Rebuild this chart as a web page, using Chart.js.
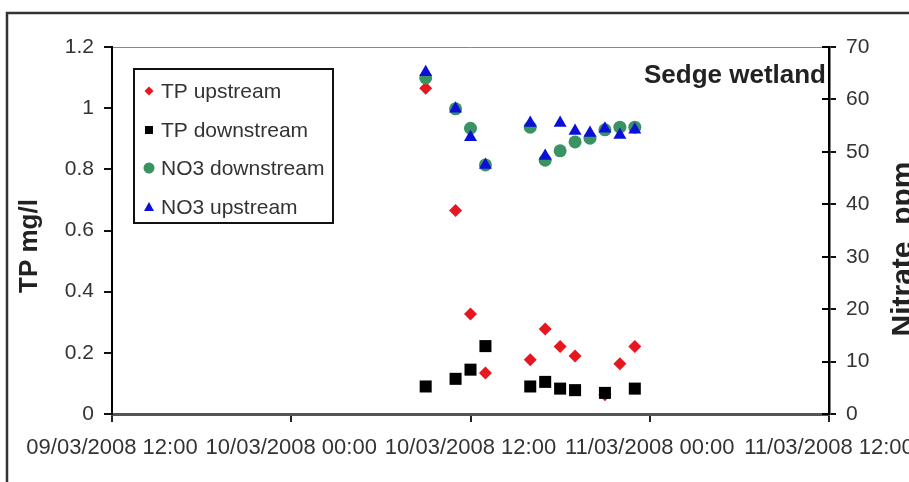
<!DOCTYPE html>
<html>
<head>
<meta charset="utf-8">
<script src="https://cdn.jsdelivr.net/npm/chart.js@4.4.1/dist/chart.umd.min.js"></script>
<style>
  body { margin: 0; background: #fff; }
  canvas { display: block; }
</style>
</head>
<body>
<canvas id="wetlandChart" width="909" height="482"></canvas>
<script>
// Sedge wetland sampling, March 2008
const startTime = '09/03/2008 12:00';
const xTickLabels = ['09/03/2008 12:00', '10/03/2008 00:00', '10/03/2008 12:00', '11/03/2008 00:00', '11/03/2008 12:00'];

// TP mg/l (left axis)
const tpUpTimes = ['10/03/2008 09:00', '10/03/2008 11:00', '10/03/2008 12:00', '10/03/2008 13:00', '10/03/2008 16:00', '10/03/2008 17:00',
                   '10/03/2008 18:00', '10/03/2008 19:00', '10/03/2008 21:00', '10/03/2008 22:00', '10/03/2008 23:00'];
const tpUpValues = [1.065, 0.665, 0.327, 0.134, 0.177, 0.278, 0.221, 0.19, 0.063, 0.164, 0.221];

const tpDownTimes = ['10/03/2008 09:00', '10/03/2008 11:00', '10/03/2008 12:00', '10/03/2008 13:00', '10/03/2008 16:00', '10/03/2008 17:00',
                     '10/03/2008 18:00', '10/03/2008 19:00', '10/03/2008 21:00', '10/03/2008 23:00'];
const tpDownValues = [0.09, 0.115, 0.145, 0.222, 0.09, 0.105, 0.083, 0.078, 0.069, 0.083];

// Nitrate ppm (right axis)
const no3Times = ['10/03/2008 09:00', '10/03/2008 11:00', '10/03/2008 12:00', '10/03/2008 13:00', '10/03/2008 16:00', '10/03/2008 17:00',
                  '10/03/2008 18:00', '10/03/2008 19:00', '10/03/2008 20:00', '10/03/2008 21:00', '10/03/2008 22:00', '10/03/2008 23:00'];
const no3DownValues = [64.1, 58.2, 54.5, 47.5, 54.7, 48.4, 50.2, 51.9, 52.6, 54.2, 54.7, 54.7];
const no3UpValues = [65.2, 58.2, 52.8, 47.5, 55.5, 49.2, 55.5, 54.0, 53.6, 54.4, 53.2, 54.2];

function toMs(str) {
    const [d, t] = str.split(' ');
    const [dd, mm, yy] = d.split('/').map(Number);
    const [hh, mi] = t.split(':').map(Number);
    return Date.UTC(yy, mm - 1, dd, hh, mi);
}
// hours since the first axis tick
function hours(str) {
    return (toMs(str) - toMs(startTime)) / 3600000;
}
function points(times, values) {
    return times.map((t, i) => ({ x: hours(t), y: values[i] }));
}

const textColor = '#333';
const fontFamily = '"Liberation Sans", Arial, sans-serif';

// frame, plot top line, inner ticks of the right axis, legend box and titles
const decorations = {
    id: 'decorations',
    beforeDraw(chart) {
        const ctx = chart.ctx;
        const area = chart.chartArea;
        ctx.save();
        ctx.fillStyle = '#fff';
        ctx.fillRect(0, 0, chart.width, chart.height);
        ctx.strokeStyle = '#333';
        ctx.lineWidth = 2.5;
        ctx.strokeRect(7, 13, chart.width + 20, chart.height + 20);
        ctx.strokeStyle = '#888';
        ctx.lineWidth = 1;
        ctx.beginPath();
        ctx.moveTo(area.left, area.top + 0.5);
        ctx.lineTo(area.right, area.top + 0.5);
        ctx.stroke();
        ctx.restore();
    },
    afterDraw(chart) {
        const ctx = chart.ctx;
        const area = chart.chartArea;
        const y2 = chart.scales.y2;
        ctx.save();

        // right axis ticks cross the axis line
        ctx.strokeStyle = '#000';
        ctx.lineWidth = 2;
        y2.ticks.forEach(tk => {
            const py = Math.round(y2.getPixelForValue(tk.value));
            ctx.beginPath();
            ctx.moveTo(area.right - 7, py);
            ctx.lineTo(area.right, py);
            ctx.stroke();
        });

        // legend
        ctx.lineWidth = 2;
        ctx.strokeStyle = '#111';
        ctx.strokeRect(134, 69, 199, 154);
        const rowY = [91, 130, 168, 207];
        ctx.font = '21px ' + fontFamily;
        ctx.textBaseline = 'middle';
        ctx.textAlign = 'left';
        chart.data.datasets.forEach((ds, i) => {
            const mx = 149, my = rowY[i];
            ctx.fillStyle = ds.backgroundColor;
            ctx.beginPath();
            if (ds.pointStyle === 'rectRot') {
                ctx.moveTo(mx - 4.5, my); ctx.lineTo(mx, my - 4.5); ctx.lineTo(mx + 4.5, my); ctx.lineTo(mx, my + 4.5);
            } else if (ds.pointStyle === 'rect') {
                ctx.rect(mx - 4, my - 4, 8, 8);
            } else if (ds.pointStyle === 'circle') {
                ctx.arc(mx, my, 5.5, 0, Math.PI * 2);
            } else {
                ctx.moveTo(mx, my - 5); ctx.lineTo(mx + 5, my + 4); ctx.lineTo(mx - 5, my + 4);
            }
            ctx.closePath();
            ctx.fill();
            ctx.fillStyle = textColor;
            ctx.fillText(ds.label, 161, my + 1);
        });

        // panel name
        ctx.fillStyle = '#222';
        ctx.font = 'bold 26px ' + fontFamily;
        ctx.textAlign = 'right';
        ctx.textBaseline = 'alphabetic';
        ctx.fillText('Sedge wetland', 826, 83);

        // axis titles
        ctx.textAlign = 'center';
        ctx.textBaseline = 'middle';
        ctx.save();
        ctx.translate(30, 246);
        ctx.rotate(-Math.PI / 2);
        ctx.font = 'bold 26px ' + fontFamily;
        ctx.fillText('TP mg/l', 0, 0);
        ctx.restore();
        ctx.save();
        ctx.translate(904, 249);
        ctx.rotate(-Math.PI / 2);
        ctx.font = 'bold 30px ' + fontFamily;
        ctx.fillText('Nitrate  ppm', 0, 0);
        ctx.restore();

        ctx.restore();
    }
};

new Chart(document.getElementById('wetlandChart').getContext('2d'), {
    type: 'scatter',
    data: {
        datasets: [
            { label: 'TP upstream', data: points(tpUpTimes, tpUpValues), yAxisID: 'y',
              pointStyle: 'rectRot', pointRadius: 6.5, backgroundColor: '#e8161e', borderColor: '#e8161e', borderWidth: 0, order: 4 },
            { label: 'TP downstream', data: points(tpDownTimes, tpDownValues), yAxisID: 'y',
              pointStyle: 'rect', pointRadius: 8.5, backgroundColor: '#000', borderColor: '#000', borderWidth: 0, order: 3 },
            { label: 'NO3 downstream', data: points(no3Times, no3DownValues), yAxisID: 'y2',
              pointStyle: 'circle', pointRadius: 6.5, backgroundColor: '#3a9462', borderColor: '#3a9462', borderWidth: 0, order: 2 },
            { label: 'NO3 upstream', data: points(no3Times, no3UpValues), yAxisID: 'y2',
              pointStyle: 'triangle', pointRadius: 7.5, backgroundColor: '#0a10d8', borderColor: '#0a10d8', borderWidth: 0, order: 1 }
        ]
    },
    options: {
        responsive: false,
        animation: false,
        devicePixelRatio: 1,
        layout: { padding: { top: 47, left: 0, right: 0, bottom: 0 } },
        plugins: {
            legend: { display: false },
            tooltip: { enabled: false }
        },
        scales: {
            x: {
                type: 'linear',
                position: 'bottom',
                min: 0,
                max: 48,
                afterFit: s => { s.height = 68; s.paddingLeft = 0; s.paddingRight = 0; },
                border: { display: true, color: '#555', width: 3 },
                grid: { drawOnChartArea: false, drawTicks: true, tickLength: 8, color: '#222', lineWidth: 2 },
                ticks: {
                    stepSize: 12,
                    autoSkip: false,
                    maxRotation: 0,
                    padding: 13,
                    color: textColor,
                    font: { family: fontFamily, size: 22 },
                    callback: (value, index) => xTickLabels[index]
                }
            },
            y: {
                position: 'left',
                min: 0,
                max: 1.2,
                afterFit: s => { s.width = 112; s.paddingTop = 0; s.paddingBottom = 0; },
                border: { display: true, color: '#000', width: 2 },
                grid: { drawOnChartArea: false, tickLength: 8, color: '#111', lineWidth: 2 },
                ticks: { stepSize: 0.2, padding: 10, color: textColor, font: { family: fontFamily, size: 21 },
                         callback: v => String(Number(v.toFixed(1))) }
            },
            y2: {
                position: 'right',
                min: 0,
                max: 70,
                afterFit: s => { s.width = 80; s.paddingTop = 0; s.paddingBottom = 0; },
                border: { display: true, color: '#000', width: 2.5 },
                grid: { drawOnChartArea: false, tickLength: 7, color: '#111', lineWidth: 2 },
                ticks: { stepSize: 10, padding: 10, color: textColor, font: { family: fontFamily, size: 21 } }
            }
        }
    },
    plugins: [decorations]
});
</script>
</body>
</html>
